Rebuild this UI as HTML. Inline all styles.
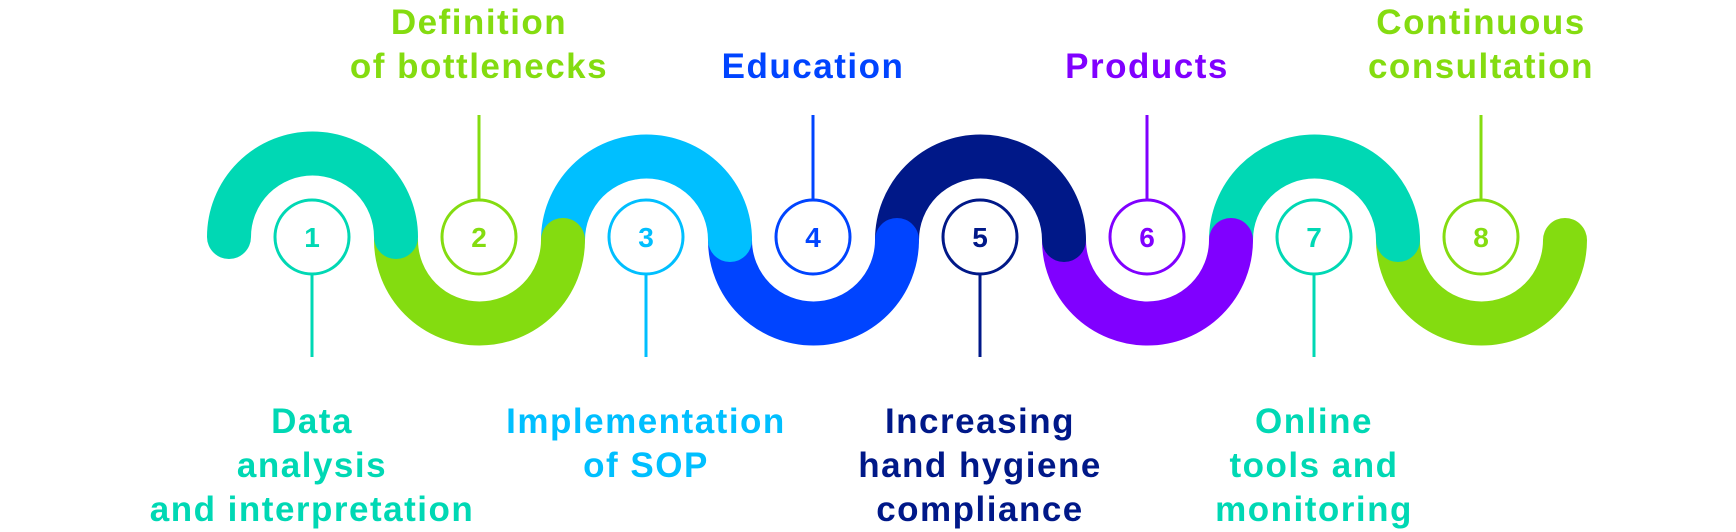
<!DOCTYPE html>
<html><head><meta charset="utf-8"><style>
html,body{margin:0;padding:0;background:#fff}
svg{display:block}
text{font-family:"Liberation Sans",sans-serif;font-weight:bold;text-anchor:middle}
</style></head><body>
<svg width="1736" height="532" viewBox="0 0 1736 532" xmlns="http://www.w3.org/2000/svg">
<g fill="none" stroke-width="44" stroke-linecap="round">
<path d="M1398 240 A83.5 83.5 0 0 0 1565 240" stroke="#84dc10"/>
<path d="M1231 240 A83.5 83.5 0 0 1 1398 240" stroke="#00d8b4"/>
<path d="M1064 240 A83.5 83.5 0 0 0 1231 240" stroke="#8000ff"/>
<path d="M897 240 A83.5 83.5 0 0 1 1064 240" stroke="#001888"/>
<path d="M730 240 A83.5 83.5 0 0 0 897 240" stroke="#0044ff"/>
<path d="M563 240 A83.5 83.5 0 0 1 730 240" stroke="#00bfff"/>
<path d="M396 240 A83.5 83.5 0 0 0 563 240" stroke="#84dc10"/>
<path d="M229 237 A83.5 83.5 0 0 1 396 237" stroke="#00d8b4"/>
</g>
<g stroke-width="3" fill="#fff">
<line x1="312" y1="274" x2="312" y2="357" stroke="#00d8b4"/>
<line x1="479" y1="115" x2="479" y2="200" stroke="#84dc10"/>
<line x1="646" y1="274" x2="646" y2="357" stroke="#00bfff"/>
<line x1="813" y1="115" x2="813" y2="200" stroke="#0044ff"/>
<line x1="980" y1="274" x2="980" y2="357" stroke="#001888"/>
<line x1="1147" y1="115" x2="1147" y2="200" stroke="#8000ff"/>
<line x1="1314" y1="274" x2="1314" y2="357" stroke="#00d8b4"/>
<line x1="1481" y1="115" x2="1481" y2="200" stroke="#84dc10"/>
<circle cx="312" cy="237" r="37" stroke="#00d8b4"/>
<circle cx="479" cy="237" r="37" stroke="#84dc10"/>
<circle cx="646" cy="237" r="37" stroke="#00bfff"/>
<circle cx="813" cy="237" r="37" stroke="#0044ff"/>
<circle cx="980" cy="237" r="37" stroke="#001888"/>
<circle cx="1147" cy="237" r="37" stroke="#8000ff"/>
<circle cx="1314" cy="237" r="37" stroke="#00d8b4"/>
<circle cx="1481" cy="237" r="37" stroke="#84dc10"/>
</g>
<g font-size="28">
<text x="312" y="247" fill="#00d8b4">1</text>
<text x="479" y="247" fill="#84dc10">2</text>
<text x="646" y="247" fill="#00bfff">3</text>
<text x="813" y="247" fill="#0044ff">4</text>
<text x="980" y="247" fill="#001888">5</text>
<text x="1147" y="247" fill="#8000ff">6</text>
<text x="1314" y="247" fill="#00d8b4">7</text>
<text x="1481" y="247" fill="#84dc10">8</text>
</g>
<g font-size="35" letter-spacing="1.5">
<text x="479" y="34" fill="#84dc10">Definition</text>
<text x="479" y="78" fill="#84dc10">of bottlenecks</text>
<text x="813" y="78" fill="#0044ff">Education</text>
<text x="1147" y="78" fill="#8000ff">Products</text>
<text x="1481" y="34" fill="#84dc10">Continuous</text>
<text x="1481" y="78" fill="#84dc10">consultation</text>
<text x="312" y="433" fill="#00d8b4">Data</text>
<text x="312" y="477" fill="#00d8b4">analysis</text>
<text x="312" y="521" fill="#00d8b4">and interpretation</text>
<text x="646" y="433" fill="#00bfff">Implementation</text>
<text x="646" y="477" fill="#00bfff">of SOP</text>
<text x="980" y="433" fill="#001888">Increasing</text>
<text x="980" y="477" fill="#001888">hand hygiene</text>
<text x="980" y="521" fill="#001888">compliance</text>
<text x="1314" y="433" fill="#00d8b4">Online</text>
<text x="1314" y="477" fill="#00d8b4">tools and</text>
<text x="1314" y="521" fill="#00d8b4">monitoring</text>
</g>
</svg>
</body></html>
